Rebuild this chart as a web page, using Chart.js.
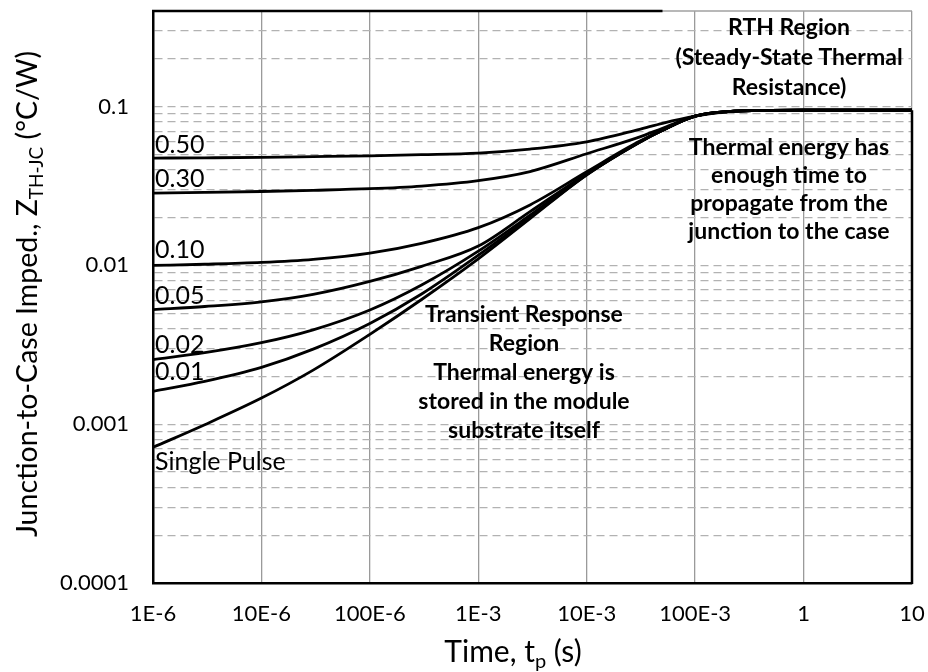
<!DOCTYPE html>
<html lang="en">
<head>
<meta charset="UTF-8" />
<title>Transient Thermal Impedance</title>
<script src="https://cdn.jsdelivr.net/npm/chart.js"></script>
<style>
  html, body { margin: 0; padding: 0; background: #fff; }
</style>
</head>
<body>
<canvas id="zthChart" width="928" height="672"></canvas>
<script>
// pulse width t_p (s)
const timeValues = [1e-6, 3e-6, 1e-5, 3e-5, 1e-4, 3e-4, 1e-3, 3e-3, 1e-2, 3e-2, 5e-2, 1e-1, 2e-1, 5e-1, 1, 10];

// Z_TH-JC (°C/W) for each duty cycle
const duty050 = [0.0474, 0.0476, 0.0479, 0.0484, 0.049, 0.0498, 0.051, 0.054, 0.060, 0.0716, 0.0785, 0.087, 0.093, 0.0948, 0.095, 0.095];
const duty030 = [0.0285, 0.0288, 0.0292, 0.0297, 0.0304, 0.0316, 0.0342, 0.039, 0.0505, 0.064, 0.073, 0.087, 0.093, 0.0948, 0.095, 0.095];
const duty010 = [0.0100, 0.01017, 0.01044, 0.01091, 0.01194, 0.01377, 0.0173, 0.02405, 0.0389, 0.060, 0.071, 0.087, 0.093, 0.0948, 0.095, 0.095];
const duty005 = [0.00527, 0.00551, 0.00589, 0.00657, 0.00793, 0.00987, 0.01324, 0.0218, 0.0378, 0.0595, 0.071, 0.087, 0.093, 0.0948, 0.095, 0.095];
const duty002 = [0.00255, 0.00282, 0.00326, 0.00393, 0.00524, 0.00753, 0.0123, 0.0207, 0.0375, 0.0592, 0.071, 0.087, 0.093, 0.0948, 0.095, 0.095];
const duty001 = [0.00161, 0.00186, 0.00228, 0.00297, 0.00431, 0.00661, 0.0116, 0.0201, 0.0372, 0.0592, 0.071, 0.087, 0.093, 0.0948, 0.095, 0.095];
const singlePulse = [0.000715, 0.000993, 0.00146, 0.00219, 0.00368, 0.0061, 0.0110, 0.0197, 0.0372, 0.059, 0.071, 0.087, 0.093, 0.0948, 0.095, 0.095];

const seriesNames = ["0.50", "0.30", "0.10", "0.05", "0.02", "0.01", "Single Pulse"];
const seriesData = [duty050, duty030, duty010, duty005, duty002, duty001, singlePulse];

const xTickValues = [1e-6, 1e-5, 1e-4, 1e-3, 1e-2, 1e-1, 1, 10];
const xTickLabels = ["1E-6", "10E-6", "100E-6", "1E-3", "10E-3", "100E-3", "1", "10"];
const yMajorValues = [1e-4, 1e-3, 1e-2, 1e-1];
const yTickLabels = ["0.0001", "0.001", "0.01", "0.1"];
const yMin = 1e-4, yMax = 0.4;

const rthText = ["RTH Region", "(Steady-State Thermal", "Resistance)"];
const steadyText = ["Thermal energy has", "enough time to", "propagate from the", "junction to the case"];
const transientText = ["Transient Response", "Region", "Thermal energy is", "stored in the module", "substrate itself"];

// log grid: 1..9 x each decade
const yGridValues = [];
yMajorValues.forEach(function (d) {
  for (let k = 1; k <= 9; k++) {
    if (d * k < yMax) yGridValues.push(d * k);
  }
});

const FONT = "Lato, 'Open Sans', sans-serif";

// text with subscript parts, centred on cx
function drawRich(ctx, parts, cx, baseline, size) {
  const subSize = Math.round(size * 0.66);
  let total = 0;
  parts.forEach(function (p) {
    ctx.font = (p.sub ? subSize : size) + "px " + FONT;
    total += ctx.measureText(p.text).width;
  });
  let x = cx - total / 2;
  ctx.textAlign = "left";
  ctx.textBaseline = "alphabetic";
  parts.forEach(function (p) {
    ctx.font = (p.sub ? subSize : size) + "px " + FONT;
    ctx.fillText(p.text, x, baseline + (p.sub ? size * 0.2 : 0));
    x += ctx.measureText(p.text).width;
  });
}

const labelDy = [-5, -6, -7, -6, -7, -11, 23];

const decorations = {
  id: "decorations",
  afterDatasetsDraw(chart) {
    const { ctx, chartArea, scales } = chart;
    const L = chartArea.left, T = chartArea.top, R = chartArea.right, B = chartArea.bottom;
    ctx.save();

    // top and right frame
    ctx.lineWidth = 1.3;
    ctx.strokeStyle = "#a0a0a0";
    ctx.beginPath();
    ctx.moveTo(L, T); ctx.lineTo(R, T);
    ctx.stroke();
    ctx.lineWidth = 2.5;
    ctx.strokeStyle = "#000";
    ctx.beginPath();
    ctx.moveTo(L - 1, T); ctx.lineTo(scales.x.getPixelForValue(0.05), T);
    ctx.moveTo(R, scales.y.getPixelForValue(duty050[duty050.length - 1])); ctx.lineTo(R, B + 1);
    ctx.stroke();

    // curve labels
    ctx.fillStyle = "#000";
    ctx.textAlign = "left";
    ctx.textBaseline = "alphabetic";
    ctx.font = "25px " + FONT;
    seriesNames.forEach(function (name, i) {
      const py = scales.y.getPixelForValue(seriesData[i][0]);
      ctx.fillText(name, L + 2, py + labelDy[i]);
    });

    // region notes
    ctx.font = "bold 23px " + FONT;
    ctx.textAlign = "center";
    rthText.forEach(function (t, i) { ctx.fillText(t, L + 636, T + 24 + i * 30); });
    steadyText.forEach(function (t, i) { ctx.fillText(t, L + 636, T + 144 + i * 28); });
    transientText.forEach(function (t, i) { ctx.fillText(t, L + 371, T + 311 + i * 29); });

    // axis titles
    drawRich(ctx, [{ text: "Time, t" }, { text: "p", sub: true }, { text: " (s)" }], 513, 662, 30);
    ctx.translate(37, (T + B) / 2 - 3);
    ctx.rotate(-Math.PI / 2);
    drawRich(ctx, [{ text: "Junction-to-Case Imped., Z" }, { text: "TH-JC", sub: true }, { text: " (°C/W)" }], 0, 0, 28.5);
    ctx.restore();
  }
};

const ctxZth = document.getElementById("zthChart").getContext("2d");
const zthChart = new Chart(ctxZth, {
  type: "line",
  data: {
    datasets: seriesData.map(function (vals, i) {
      return {
        label: seriesNames[i],
        data: vals.map(function (v, j) { return { x: timeValues[j], y: v }; }),
        borderColor: "#000",
        borderWidth: 2.8,
        pointRadius: 0,
        fill: false,
        cubicInterpolationMode: "monotone",
      };
    }),
  },
  options: {
    responsive: false,
    animation: false,
    layout: { padding: { top: 11, right: 16, left: 0, bottom: 0 } },
    plugins: { legend: { display: false }, tooltip: { enabled: false } },
    scales: {
      x: {
        type: "logarithmic",
        min: 1e-6,
        max: 10,
        afterBuildTicks: function (s) { s.ticks = xTickValues.map(function (v) { return { value: v }; }); },
        afterFit: function (s) { s.height = 89; s.paddingLeft = 0; s.paddingRight = 0; },
        ticks: {
          autoSkip: false,
          maxRotation: 0,
          padding: 18,
          color: "#000",
          font: { family: FONT, size: 22 },
          callback: function (v, i) { return xTickLabels[i]; },
        },
        grid: { color: "#9a9a9a", lineWidth: 1.3, drawTicks: false },
        border: { color: "#000", width: 2.5 },
      },
      y: {
        type: "logarithmic",
        min: yMin,
        max: yMax,
        afterBuildTicks: function (s) { s.ticks = yGridValues.map(function (v) { return { value: v }; }); },
        afterFit: function (s) { s.width = 153; s.paddingTop = 0; s.paddingBottom = 0; },
        ticks: {
          autoSkip: false,
          padding: 24,
          color: "#000",
          font: { family: FONT, size: 22 },
          callback: function (v) {
            const k = yMajorValues.indexOf(v);
            return k >= 0 ? yTickLabels[k] : "";
          },
        },
        grid: { color: "#b2b2b2", lineWidth: 1.3, drawTicks: false },
        border: { color: "#000", width: 2.5, dash: [8, 5] },
      },
    },
  },
  plugins: [decorations],
});
</script>
</body>
</html>
